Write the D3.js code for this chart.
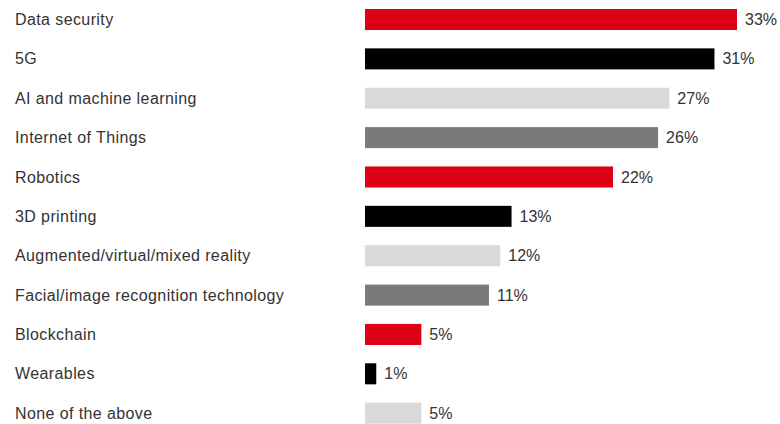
<!DOCTYPE html>
<html><head><meta charset="utf-8">
<script src="https://cdn.jsdelivr.net/npm/d3@7"></script>
<style>body{margin:0;background:#fff}svg{display:block}</style>
</head><body>
<svg id="c" width="780" height="424"></svg>
<script>
const categories = ["Data security","5G","AI and machine learning","Internet of Things","Robotics","3D printing","Augmented/virtual/mixed reality","Facial/image recognition technology","Blockchain","Wearables","None of the above"];
const values = [33,31,27,26,22,13,12,11,5,1,5];
const palette = ["#dc0014","#000000","#d9d9d8","#7a7a7a"];

const svg = d3.select("#c");
const x = d3.scaleLinear().domain([0,33]).range([365,737]);
const y = d3.scaleBand().domain(categories).range([9,423.7]).paddingInner(0.466).paddingOuter(0);

const g = svg.selectAll("g.row").data(categories).join("g").attr("class","row");
g.append("rect")
  .attr("x", x(0))
  .attr("y", d => y(d))
  .attr("width", (d,i) => x(values[i]) - x(0))
  .attr("height", y.bandwidth())
  .attr("fill", (d,i) => palette[i % 4]);
g.append("text")
  .attr("x", 15)
  .attr("y", d => y(d) + y.bandwidth()/2)
  .attr("dy","0.35em")
  .attr("font-family","Liberation Sans, Arial, sans-serif")
  .attr("font-size", 16)
  .attr("letter-spacing", 0.4)
  .attr("fill","#333")
  .text(d => d);
g.append("text")
  .attr("x", (d,i) => x(values[i]) + 8)
  .attr("y", d => y(d) + y.bandwidth()/2)
  .attr("dy","0.35em")
  .attr("font-family","Liberation Sans, Arial, sans-serif")
  .attr("font-size", 16)
  .attr("fill","#333")
  .text((d,i) => values[i] + "%");
</script>
</body></html>
